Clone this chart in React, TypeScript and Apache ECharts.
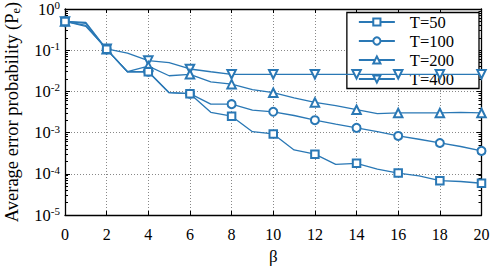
import React, { useEffect, useRef } from "react";
import * as echarts from "echarts";

const beta = [0, 1, 2, 3, 4, 5, 6, 7, 8, 9, 10, 11, 12, 13, 14, 15, 16, 17, 18, 19, 20];
const seriesNames = ["T=50", "T=100", "T=200", "T=400"];
const t50 = [0.5, 0.47, 0.105, 0.03, 0.03, 0.0093, 0.0088, 0.0031, 0.0025, 0.00105, 0.00093, 0.00038, 0.0003, 0.00017, 0.00018, 0.00013, 0.000104, 0.000089, 0.000068, 0.000065, 0.000059];
const t100 = [0.5, 0.45, 0.105, 0.03, 0.03, 0.0093, 0.0088, 0.0049, 0.0049, 0.0035, 0.0032, 0.0026, 0.002, 0.0016, 0.0013, 0.00105, 0.00083, 0.00069, 0.00056, 0.00046, 0.00036];
const t200 = [0.5, 0.4, 0.105, 0.03, 0.041, 0.024, 0.026, 0.017, 0.015, 0.011, 0.0093, 0.007, 0.0054, 0.0045, 0.0036, 0.0029, 0.003, 0.003, 0.003, 0.0031, 0.003];
const t400 = [0.5, 0.38, 0.108, 0.085, 0.056, 0.05, 0.035, 0.03, 0.026, 0.026, 0.026, 0.026, 0.026, 0.026, 0.026, 0.026, 0.026, 0.026, 0.026, 0.026, 0.026];
const xTicks = [0, 2, 4, 6, 8, 10, 12, 14, 16, 18, 20];
const yExponents = [-5, -4, -3, -2, -1, 0];

const FONT = "'Liberation Serif', 'Times New Roman', serif";
const COLOR = "#2a78b5";

export default function App() {
  const ref = useRef<HTMLDivElement>(null);
  useEffect(() => {
    if (!ref.current) return;
    const chart = echarts.init(ref.current, null, { renderer: "svg" });
    const minorVals: number[] = [];
    for (let n = -5; n < 0; n++) {
      for (let k = 1; k <= 9; k++) minorVals.push(k * Math.pow(10, n));
    }
    minorVals.push(1);
    const majorVals = yExponents.map((e) => Math.pow(10, e));
    const data = [t50, t100, t200, t400];
    const symbols = ["emptyRect", "emptyCircle", "emptyTriangle", "emptyTriangle"];
    const rotates = [0, 0, 0, 180];
    const sizes = [7.5, 8, 8.5, 8.5];
    const axisLine = { show: true, lineStyle: { color: "#000", width: 1.3 } };
    chart.setOption({
      animation: false,
      backgroundColor: "#fff",
      grid: { left: 65, right: 10.5, top: 9, bottom: 51, containLabel: false, outerBoundsMode: "none" },
      legend: {
        orient: "vertical",
        right: 13,
        top: 12.5,
        data: seriesNames,
        itemWidth: 36,
        itemHeight: 9,
        itemGap: 2,
        padding: [1, 25, 1, 11],
        borderColor: "#000",
        borderWidth: 1.3,
        backgroundColor: "#fff",
        formatter: (n: string) => `{g|\u00a0}{t|${n}}`,
        textStyle: {
          rich: {
            g: { width: 10, fontSize: 16.5, fontFamily: FONT },
            t: { fontFamily: FONT, fontSize: 16.5, color: "#000", lineHeight: 16 },
          },
        },
      },
      xAxis: [
        {
          type: "value",
          min: 0,
          max: 20,
          interval: 2,
          name: "β",
          nameLocation: "middle",
          nameGap: 33,
          nameTextStyle: { fontFamily: FONT, fontSize: 17, color: "#000" },
          axisLine,
          axisTick: { show: true, inside: true, length: 4, lineStyle: { color: "#000" } },
          axisLabel: {
            fontFamily: FONT,
            fontSize: 16,
            color: "#000",
            margin: 11,
            customValues: xTicks,
          },
          splitLine: { show: true, lineStyle: { color: "#888", type: [1, 2], width: 1 } },
        },
        {
          type: "value",
          position: "top",
          min: 0,
          max: 20,
          interval: 2,
          axisLine,
          axisTick: { show: true, inside: true, length: 4, lineStyle: { color: "#000" } },
          axisLabel: { show: false },
          splitLine: { show: false },
        },
      ],
      yAxis: [
        {
          type: "log",
          logBase: 10,
          min: 1e-5,
          max: 1,
          position: "left",
          name: "{n|Average error probability (P}{s|e}{n|)}",
          nameLocation: "middle",
          nameGap: 43,
          nameTextStyle: {
            rich: {
              n: { fontFamily: FONT, fontSize: 18.5, color: "#000" },
              s: { fontFamily: FONT, fontSize: 12.5, color: "#000", verticalAlign: "bottom", padding: [7, 0, 0, 0] },
            },
          },
          axisLine,
          axisTick: { show: true, inside: true, length: 5, lineStyle: { color: "#000" } },
          axisLabel: {
            margin: 5,
            formatter: (v: number) => `{b|10}{s|${Math.round(Math.log10(v))}}`,
            rich: {
              b: { fontFamily: FONT, fontSize: 16.5, color: "#000" },
              s: { fontFamily: FONT, fontSize: 11, color: "#000", verticalAlign: "top", padding: [0, 0, 8, 0] },
            },
          },
          splitLine: { show: true, lineStyle: { color: "#888", type: [1, 2], width: 1 } },
        },
        {
          type: "log",
          logBase: 10,
          min: 1e-5,
          max: 1,
          position: "left",
          axisLine: { show: false },
          axisTick: { show: true, inside: true, length: 3, customValues: minorVals, lineStyle: { color: "#000" } },
          axisLabel: { show: false },
          splitLine: { show: false },
        },
        {
          type: "log",
          logBase: 10,
          min: 1e-5,
          max: 1,
          position: "right",
          axisLine,
          axisTick: { show: true, inside: true, length: 3, customValues: minorVals, lineStyle: { color: "#000" } },
          axisLabel: { show: false },
          splitLine: { show: false },
        },
        {
          type: "log",
          logBase: 10,
          min: 1e-5,
          max: 1,
          position: "right",
          axisLine: { show: false },
          axisTick: { show: true, inside: true, length: 5, customValues: majorVals, lineStyle: { color: "#000" } },
          axisLabel: { show: false },
          splitLine: { show: false },
        },
      ],
      series: seriesNames.map((name, i) => ({
        name,
        type: "line",
        xAxisIndex: 0,
        yAxisIndex: 0,
        data: beta.map((b, j) => [b, data[i][j]]),
        symbol: symbols[i],
        symbolRotate: rotates[i],
        symbolSize: (_v: any, p: any) => (p.dataIndex % 2 === 0 ? sizes[i] : 0),
        showAllSymbol: true,
        color: COLOR,
        lineStyle: { color: COLOR, width: 1.3 },
        itemStyle: { color: COLOR, borderWidth: 1.3 },
        z: 10 - i,
      })),
    });
    return () => chart.dispose();
  }, []);
  return <div ref={ref} style={{ position: "absolute", left: 0, top: 0, width: 492, height: 266 }} />;
}
